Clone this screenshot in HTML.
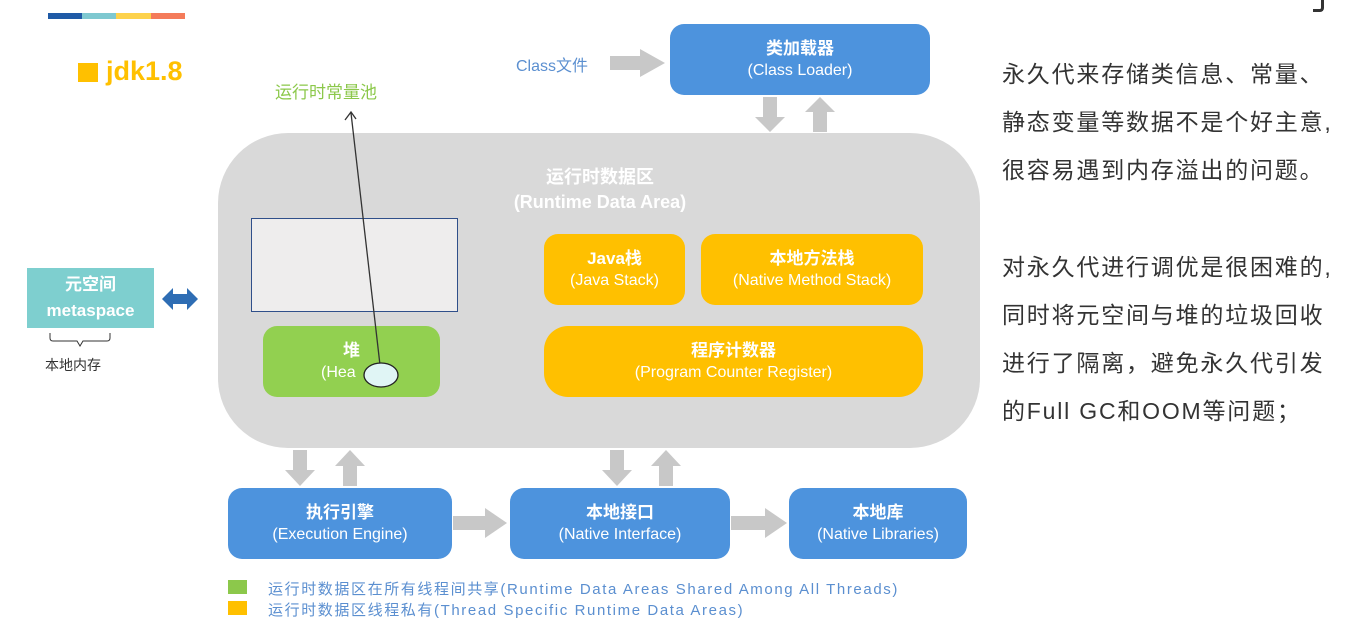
<!DOCTYPE html><html><head><meta charset="utf-8"><style>
body{margin:0;width:1370px;height:627px;background:#fff;position:relative;overflow:hidden;font-family:"Liberation Sans","Noto Sans CJK SC",sans-serif}
.a{position:absolute}
.box{position:absolute;border-radius:14px;color:#fff;text-align:center;display:flex;flex-direction:column;justify-content:center;font-size:16px;line-height:22px}
.box b{font-size:17px}
.blue{background:#4d93dd}
.or{background:#ffc000}
.rt{position:absolute;left:1002px;font-size:23px;letter-spacing:1.8px;color:#333;white-space:nowrap}
.lg{position:absolute;left:268px;font-size:15px;letter-spacing:1.6px;color:#5b8fd0;white-space:nowrap}
</style></head><body>
<div class="a" style="left:48px;top:13px;width:34px;height:6px;background:#1f5aa6"></div>
<div class="a" style="left:82px;top:13px;width:34px;height:6px;background:#7ec8d0"></div>
<div class="a" style="left:116px;top:13px;width:35px;height:6px;background:#fdd24c"></div>
<div class="a" style="left:151px;top:13px;width:34px;height:6px;background:#f47b5a"></div>
<div class="a" style="left:78px;top:63px;width:20px;height:19px;background:#ffc000"></div>
<div class="a" style="left:106px;top:56px;font-size:27px;color:#ffc000;font-weight:bold">jdk1.8</div>
<div class="a" style="left:275px;top:78px;font-size:17px;color:#8cc84b">运行时常量池</div>
<div class="a" style="left:1313px;top:0;width:8px;height:9px;border-right:3px solid #333;border-bottom:3px solid #333;border-radius:0 0 4px 0"></div>

<div class="a" style="left:218px;top:133px;width:762px;height:315px;background:#d9d9d9;border-radius:70px"></div>
<div class="a" style="left:251px;top:218px;width:205px;height:92px;background:#eeeded;border:1.5px solid #2f4f8a"></div>
<div class="box" style="left:263px;top:326px;width:177px;height:71px;background:#92d050"><b>堆</b><span style="text-align:left;padding-left:58px">(Hea</span></div>
<div class="a" style="left:450px;top:165px;width:300px;text-align:center;color:#fff;font-weight:bold;font-size:18px;line-height:25px">运行时数据区<br>(Runtime Data Area)</div>
<div class="box or" style="left:544px;top:234px;width:141px;height:71px"><b>Java栈</b>(Java Stack)</div>
<div class="box or" style="left:701px;top:234px;width:222px;height:71px"><b>本地方法栈</b>(Native Method Stack)</div>
<div class="box or" style="left:544px;top:326px;width:379px;height:71px;border-radius:24px"><b>程序计数器</b>(Program Counter Register)</div>

<div class="box blue" style="left:670px;top:24px;width:260px;height:71px"><b>类加载器</b>(Class Loader)</div>
<div class="a" style="left:516px;top:52px;font-size:16px;color:#5b8fd0">Class文件</div>
<div class="box blue" style="left:228px;top:488px;width:224px;height:71px"><b>执行引擎</b>(Execution Engine)</div>
<div class="box blue" style="left:510px;top:488px;width:220px;height:71px"><b>本地接口</b>(Native Interface)</div>
<div class="box blue" style="left:789px;top:488px;width:178px;height:71px"><b>本地库</b>(Native Libraries)</div>

<div class="a" style="left:27px;top:268px;width:127px;height:60px;background:#7ecfcf;color:#fff;text-align:center;font-weight:bold;font-size:17px;line-height:26px;padding-top:4px;box-sizing:border-box">元空间<br>metaspace</div>
<div class="a" style="left:45px;top:355px;font-size:14px;color:#333">本地内存</div>

<div class="a" style="left:228px;top:580px;width:19px;height:14px;background:#8cc84b"></div>
<div class="a" style="left:228px;top:601px;width:19px;height:14px;background:#ffc000"></div>
<div class="lg" style="top:578px">运行时数据区在所有线程间共享(Runtime Data Areas Shared Among All Threads)</div>
<div class="lg" style="top:599px">运行时数据区线程私有(Thread Specific Runtime Data Areas)</div>

<div class="rt" style="top:55px">永久代来存储类信息、常量、</div>
<div class="rt" style="top:103px">静态变量等数据不是个好主意,</div>
<div class="rt" style="top:151px">很容易遇到内存溢出的问题。</div>
<div class="rt" style="top:248px">对永久代进行调优是很困难的,</div>
<div class="rt" style="top:296px">同时将元空间与堆的垃圾回收</div>
<div class="rt" style="top:344px">进行了隔离，避免永久代引发</div>
<div class="rt" style="top:392px">的Full GC和OOM等问题；</div>

<svg class="a" style="left:0;top:0" width="1370" height="627">
<g fill="#c8c8c8">
<polygon points="610,56 640,56 640,49 665,63 640,77 640,70 610,70"/>
<polygon points="763,97 777,97 777,117 785,117 770,132 755,117 763,117"/>
<polygon points="813,132 827,132 827,112 835,112 820,97 805,112 813,112"/>
<polygon points="293,450 307,450 307,470 315,470 300,486 285,470 293,470"/>
<polygon points="343,486 357,486 357,466 365,466 350,450 335,466 343,466"/>
<polygon points="610,450 624,450 624,470 632,470 617,486 602,470 610,470"/>
<polygon points="659,486 673,486 673,466 681,466 666,450 651,466 659,466"/>
<polygon points="453,516 485,516 485,508 507,523 485,538 485,530 453,530"/>
<polygon points="731,516 765,516 765,508 787,523 765,538 765,530 731,530"/>
</g>
<polygon points="162,299 173,288 173,294 187,294 187,288 198,299 187,310 187,304 173,304 173,310" fill="#2e6db4"/>
<path d="M50,333 v5 q0,3 3,3 h24 l3,5 l3,-5 h24 q3,0 3,-3 v-5" fill="none" stroke="#333" stroke-width="1"/>
<line x1="380" y1="365" x2="351" y2="113" stroke="#333" stroke-width="1.3"/>
<polyline points="345,120 351,112 356,119" fill="none" stroke="#333" stroke-width="1.3"/>
<ellipse cx="381" cy="375" rx="17" ry="12" fill="#e0f5f5" stroke="#222" stroke-width="1.3"/>
</svg>
</body></html>
